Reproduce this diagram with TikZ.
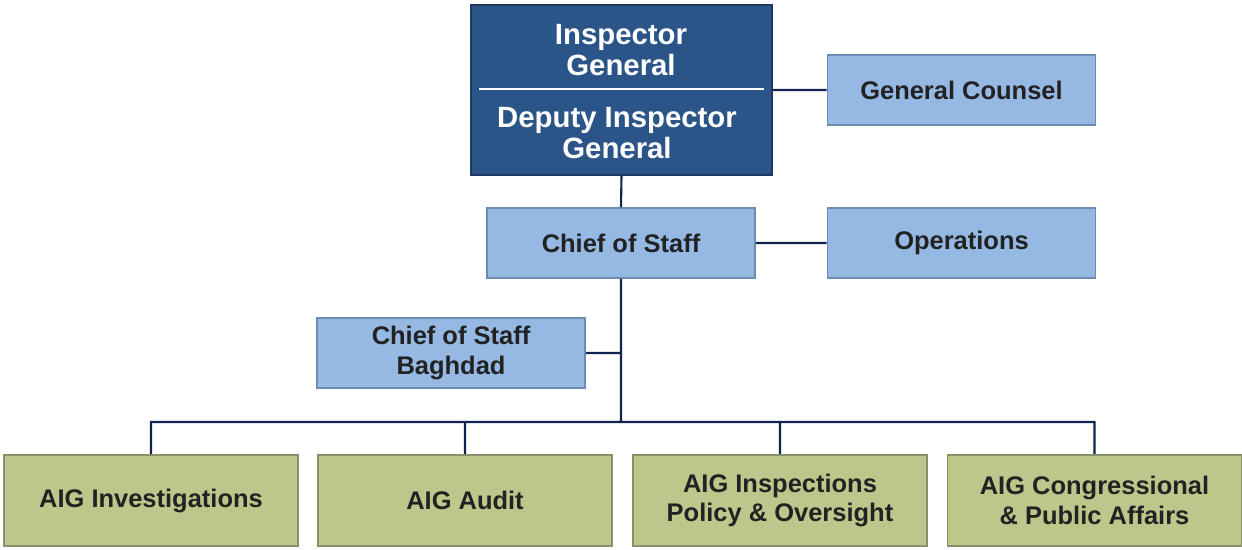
\documentclass[tikz,border=0pt]{standalone}
\usepackage{fontspec}
\setmainfont{Liberation Sans}
\usepackage{xcolor}
\usetikzlibrary{positioning}
\definecolor{igblue}{RGB}{43,84,136}
\definecolor{igedge}{RGB}{30,56,98}
\definecolor{staffblue}{RGB}{149,185,226}
\definecolor{staffedge}{RGB}{110,140,178}
\definecolor{aiggreen}{RGB}{190,199,139}
\definecolor{aigedge}{RGB}{138,145,104}
\definecolor{linkblue}{RGB}{14,35,80}
\definecolor{labelgray}{RGB}{34,34,34}
\tikzset{
	orgtext/.style={font=\fontsize{14.5}{17}\selectfont\bfseries, align=center},
	igtext/.style={font=\fontsize{16.7}{17.2}\selectfont\bfseries, align=center, text=white},
	staffbox/.style={orgtext, draw=staffedge, fill=staffblue, line width=1pt,
		text=labelgray, minimum width=5.36cm, minimum height=1.4cm, inner sep=0pt},
	aigbox/.style={orgtext, draw=aigedge, fill=aiggreen, line width=1pt,
		text=labelgray, minimum width=5.88cm, minimum height=1.82cm, inner sep=0pt},
	link/.style={draw=linkblue, line width=1.2pt}
}
\begin{document}
\begin{tikzpicture}[x=0.02cm,y=-0.02cm]
	\useasboundingbox (0,0) rectangle (1242,550);
	%
	%  LINKS
	%
	\coordinate (bus) at (621,422);
	%
	%  BOXES
	%
	\node[draw=igedge, fill=igblue, line width=1pt, minimum width=6.02cm,
		minimum height=3.4cm, inner sep=0pt] (ig) at (621.5,90) {};
	\node[igtext] (igtop) at (621,50) {Inspector\\General};
	\node[igtext] (igbot) at (617,133) {Deputy Inspector\\General};
	\draw[white, line width=1pt] (479,89) -- (764,89);
	\node[staffbox] (counsel) at (961.5,90) {General Counsel};
	\node[staffbox] (cos) at (621,243) {Chief of Staff};
	\node[staffbox] (ops) at (961.5,243) {Operations};
	\node[staffbox] (baghdad) at (451,353) {Chief of Staff\\Baghdad};
	\node[aigbox] (aig1) at (151,500.5) {AIG Investigations};
	\node[aigbox] (aig2) at (465,500.5) {AIG Audit};
	\node[aigbox] (aig3) at (780,500.5) {AIG Inspections\\Policy \& Oversight};
	\node[aigbox] (aig4) at (1094.5,500.5) {AIG Congressional\\\& Public Affairs};
	%
	\path[link]
	(ig.east |- counsel.west) -- (counsel.west)
	(ig.south) -- (cos.north)
	(cos.east) -- (ops.west)
	(cos.south) -- (bus)
	(baghdad.east) -- (baghdad.east -| cos.south)
	(bus) -| (aig1.north)
	(bus) -| (aig4.north)
	(bus -| aig2.north) -- (aig2.north)
	(bus -| aig3.north) -- (aig3.north);
\end{tikzpicture}
\end{document}
